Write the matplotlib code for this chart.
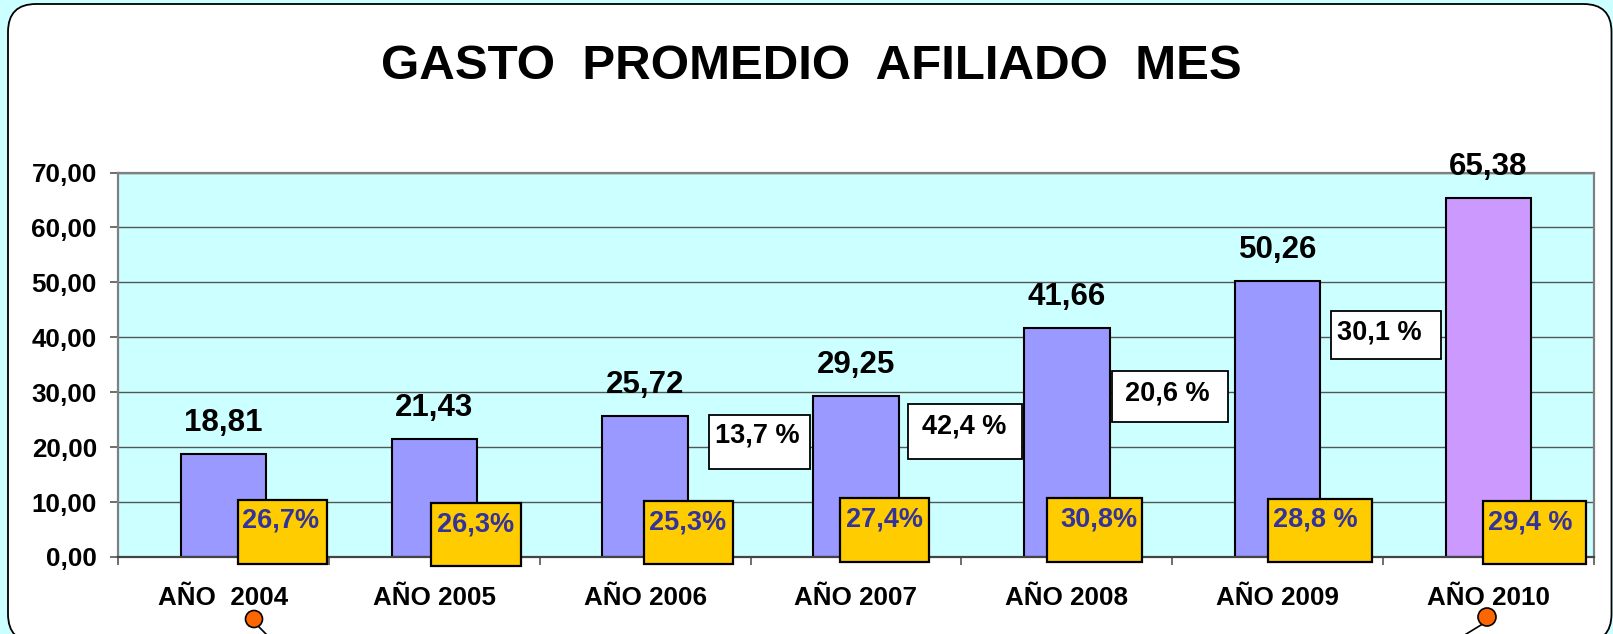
import matplotlib
matplotlib.use("Agg")
import matplotlib.pyplot as plt
import numpy as np
from matplotlib.patches import Rectangle, FancyBboxPatch, Circle
from matplotlib.lines import Line2D
from matplotlib.transforms import IdentityTransform

# ---------------- data ----------------
title = "GASTO  PROMEDIO  AFILIADO  MES"
categories = ["AÑO  2004", "AÑO 2005", "AÑO 2006", "AÑO 2007", "AÑO 2008", "AÑO 2009", "AÑO 2010"]
values = [18.81, 21.43, 25.72, 29.25, 41.66, 50.26, 65.38]
value_labels = ["18,81", "21,43", "25,72", "29,25", "41,66", "50,26", "65,38"]
yellow_labels = ["26,7%", "26,3%", "25,3%", "27,4%", "30,8%", "28,8 %", "29,4 %"]
growth_labels = ["13,7 %", "42,4 %", "20,6 %", "30,1 %"]
yticks = [0, 10, 20, 30, 40, 50, 60, 70]
ytick_labels = ["0,00", "10,00", "20,00", "30,00", "40,00", "50,00", "60,00", "70,00"]

# ---------------- layout / style ----------------
W, H = 1613, 634
BG = "#CCFFFF"
BAR_COLORS = ["#9999FF"] * 6 + ["#CC99FF"]
YELLOW = "#FFCC00"
BLUE_TXT = "#333399"
FONT = "Liberation Sans"

# yellow box extents in data coords (x0, x1, ytop, ybottom) and text left pad (px)
yellow_boxes = [(0.067, 0.491, 10.38, -1.27), (0.984, 1.409, 9.83, -1.64),
                (1.995, 2.419, 10.19, -1.27), (2.922, 3.346, 10.74, -0.91),
                (3.906, 4.356, 10.74, -0.91), (4.954, 5.447, 10.56, -0.91),
                (5.973, 6.462, 10.19, -1.27)]
yellow_pad = [4, 6, 5, 6, 13, 5, 5]
white_boxes = [(2.303, 2.782, 25.85, 16.02), (3.247, 3.785, 27.85, 17.84),
               (4.214, 4.764, 33.86, 24.58), (5.253, 5.774, 44.84, 36.05)]
white_pad = [(6, 7), (14, 9.5), (13, 9), (6, 9)]
px = 0.72  # points per pixel at dpi 100

fig = plt.figure(figsize=(W / 100, H / 100), dpi=100, facecolor=BG)

# outer rounded frame
frame = FancyBboxPatch((8, -8), 1603.5, 634 - 4 + 8,
                       boxstyle="round,pad=0,rounding_size=28",
                       transform=IdentityTransform(), facecolor="white",
                       edgecolor="black", linewidth=1.3, zorder=-5)
fig.add_artist(frame)

left, right, top, bottom = 118, 1594, 172.5, 557
ax = fig.add_axes([left / W, 1 - bottom / H, (right - left) / W, (bottom - top) / H])
ax.set_facecolor(BG)
ax.set_xlim(-0.5, 6.5)
ax.set_ylim(0, 70)
ax.set_axisbelow(True)

x = np.arange(len(values))
ax.bar(x, values, width=0.405, color=BAR_COLORS, edgecolor="black", linewidth=1.5, zorder=2)

for xi, v, lab in zip(x, values, value_labels):
    ax.annotate(lab, xy=(xi, v), xytext=(0, 16.5), textcoords="offset points",
                ha="center", va="baseline", fontsize=22.5, fontweight="bold",
                family=FONT, color="black", zorder=5, annotation_clip=False)

for (x0, x1, yt, yb), lab, pad in zip(yellow_boxes, yellow_labels, yellow_pad):
    ax.add_patch(Rectangle((x0, yb), x1 - x0, yt - yb, facecolor=YELLOW,
                           edgecolor="black", linewidth=1.6, zorder=4, clip_on=False))
    ax.annotate(lab, xy=(x0, yt), xytext=(pad * px, -8 * px), textcoords="offset points",
                ha="left", va="top", fontsize=19.5, fontweight="bold", family=FONT,
                color=BLUE_TXT, zorder=6, annotation_clip=False)

for (x0, x1, yt, yb), lab, (pdx, pdy) in zip(white_boxes, growth_labels, white_pad):
    ax.add_patch(Rectangle((x0, yb), x1 - x0, yt - yb, facecolor="white",
                           edgecolor="black", linewidth=1.3, zorder=4, clip_on=False))
    ax.annotate(lab, xy=(x0, yt), xytext=(pdx * px, -pdy * px), textcoords="offset points",
                ha="left", va="top", fontsize=19.5, fontweight="bold", family=FONT,
                color="black", zorder=6, annotation_clip=False)

# axes styling
ax.set_yticks(yticks)
ax.set_yticklabels(ytick_labels)
ax.set_xticks(x)
ax.set_xticklabels(categories)
ax.set_xticks(np.arange(-0.5, 7, 1), minor=True)
ax.tick_params(axis="x", which="major", length=0, pad=21)
ax.tick_params(axis="x", which="minor", length=5.8, width=1.2, color="#555555", direction="out")
ax.tick_params(axis="y", which="major", length=5.8, width=1.2, color="#555555", pad=9.4)
for lab in ax.get_xticklabels() + ax.get_yticklabels():
    lab.set_fontsize(18.7)
    lab.set_fontweight("bold")
    lab.set_family(FONT)

ax.yaxis.grid(True, color="#555555", linewidth=1.0)
for s in ["top", "right", "left"]:
    ax.spines[s].set_color("#808080")
    ax.spines[s].set_linewidth(1.6)
ax.spines["bottom"].set_color("#444444")
ax.spines["bottom"].set_linewidth(1.6)

fig.text(811 / W, 1 - 79.2 / H, title, ha="center", va="baseline",
         fontsize=35.5, fontweight="bold", family=FONT, color="black")

# decorative callout remnants at the bottom
for (cx, cy, r), (lx0, ly0, lx1, ly1) in [((254, 15, 8.5), (258, 8, 268, -2)),
                                          ((1487, 17, 9), (1481, 9, 1463, -2))]:
    fig.add_artist(Circle((cx, cy), r, transform=IdentityTransform(), facecolor="#FF6600",
                          edgecolor="black", linewidth=1.2, zorder=10))
    fig.add_artist(Line2D([lx0, lx1], [ly0, ly1], transform=IdentityTransform(),
                          color="black", linewidth=1.2, zorder=9))

fig.savefig("out.png", dpi=100, facecolor=BG)
